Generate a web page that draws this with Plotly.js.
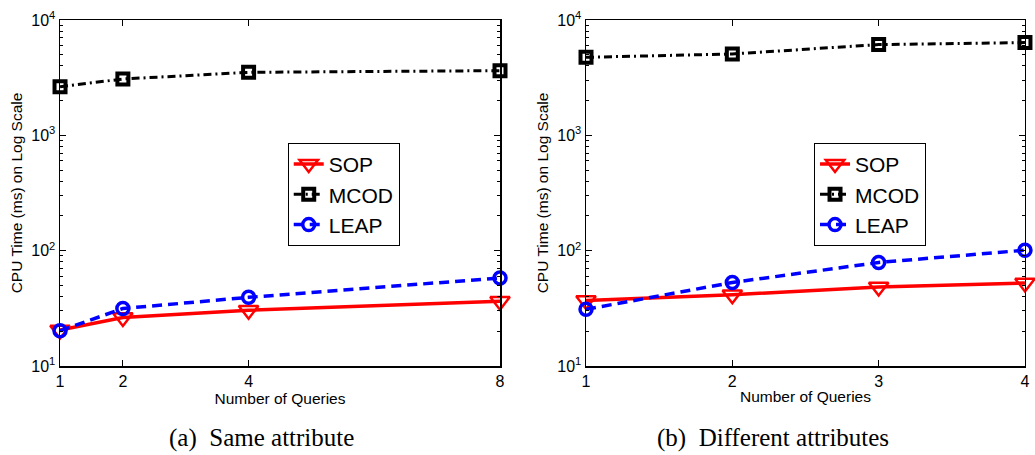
<!DOCTYPE html>
<html>
<head>
<meta charset="utf-8">
<script src="https://cdn.plot.ly/plotly-3.0.1.min.js"></script>
<style>html,body{margin:0;padding:0;background:#fff;}#chart{width:1035px;height:455px;}</style>
</head>
<body>
<div id="chart"></div>
<script>
// Panel (a): Same attribute
const queriesA = [1, 2, 4, 8];
const sopA  = [20.5, 26.3, 30.5, 36.5];
const mcodA = [2640, 3080, 3520, 3640];
const leapA = [20.2, 31.5, 39.4, 58];

// Panel (b): Different attributes
const queriesB = [1, 2, 3, 4];
const sopB  = [37, 41.5, 48.5, 52.5];
const mcodB = [4750, 5080, 6120, 6370];
const leapB = [31, 53, 79, 101];

const yTickVals = [10, 100, 1000, 10000];
const yTickText = ['10<sup>1</sup>', '10<sup>2</sup>', '10<sup>3</sup>', '10<sup>4</sup>'];

const seriesNames = ['SOP', 'MCOD', 'LEAP'];
const captionA = '(a)  Same attribute';
const captionB = '(b)  Different attributes';
const xTitle = 'Number of Queries';
const yTitle = 'CPU Time (ms) on Log Scale';

const FONT = 'Liberation Sans, Arial, sans-serif';

function styles(name) {
  if (name === 'SOP') return {
    line: {color: '#ff0000', width: 3.5, dash: 'solid'},
    marker: {symbol: 'triangle-down-open', size: 17, color: '#ff0000', line: {width: 2.5, color: '#ff0000'}}
  };
  if (name === 'MCOD') return {
    line: {color: '#000000', width: 3, dash: '8px,4px,2px,4px'},
    marker: {symbol: 'square-open', size: 11, color: '#000000', line: {width: 4, color: '#000000'}}
  };
  return {
    line: {color: '#0000ff', width: 3.5, dash: '10px,6px'},
    marker: {symbol: 'circle-open', size: 12, color: '#0000ff', line: {width: 3.5, color: '#0000ff'}}
  };
}

function makeTraces(xs, ys, xa, ya, legend) {
  return seriesNames.map((n, i) => Object.assign({
    type: 'scatter', mode: 'lines+markers', name: n,
    x: xs, y: ys[i], xaxis: xa, yaxis: ya, legend: legend,
    cliponaxis: false
  }, styles(n)));
}

const data = [].concat(
  makeTraces(queriesA, [sopA, mcodA, leapA], 'x', 'y', 'legend'),
  makeTraces(queriesB, [sopB, mcodB, leapB], 'x2', 'y2', 'legend2')
);

const yBase = {
  type: 'log', range: [1, 4], tickvals: yTickVals, ticktext: yTickText,
  ticks: 'inside', ticklen: 6, tickwidth: 1, tickcolor: '#000',
  showline: true, linecolor: '#000', linewidth: 1.5, mirror: 'ticks',
  showgrid: false, zeroline: false,
  minor: {ticks: 'inside', ticklen: 3, tickcolor: '#000', tickwidth: 1, dtick: 'D1', showgrid: false},
  tickfont: {family: FONT, size: 16, color: '#000'},
  title: {text: yTitle, font: {family: FONT, size: 15.5, color: '#000'}, standoff: 5},
  domain: [0.1956, 0.956]
};
const xBase = {
  type: 'linear', ticks: 'inside', ticklen: 6, tickwidth: 1, tickcolor: '#000',
  showline: true, linecolor: '#000', linewidth: 1.5, mirror: 'ticks',
  showgrid: false, zeroline: false,
  tickfont: {family: FONT, size: 16, color: '#000'},
  title: {text: xTitle, font: {family: FONT, size: 15.5, color: '#000'}, standoff: 2}
};

const legendBase = {
  bgcolor: '#fff', bordercolor: '#000', borderwidth: 1,
  font: {family: FONT, size: 21, color: '#000'},
  xanchor: 'left', yanchor: 'top', tracegroupgap: 0, itemwidth: 30
};

const layout = {
  width: 1035, height: 455,
  margin: {l: 0, r: 0, t: 0, b: 0},
  paper_bgcolor: '#fff', plot_bgcolor: '#fff',
  showlegend: true,
  xaxis: Object.assign({}, xBase, {domain: [0.058, 0.4831], range: [1, 8], tickvals: queriesA, anchor: 'y'}),
  yaxis: Object.assign({}, yBase, {anchor: 'x'}),
  xaxis2: Object.assign({}, xBase, {domain: [0.5662, 0.9903], range: [1, 4], tickvals: queriesB, anchor: 'y2'}),
  yaxis2: Object.assign({}, yBase, {anchor: 'x2'}),
  legend: Object.assign({}, legendBase, {x: 0.278, y: 0.686}),
  legend2: Object.assign({}, legendBase, {x: 0.7865, y: 0.686}),
  annotations: [
    {text: captionA, xref: 'paper', yref: 'paper', x: 0.2531, y: 1 - 438/455, xanchor: 'center', yanchor: 'middle', showarrow: false,
     font: {family: 'Liberation Serif, Times New Roman, serif', size: 25, color: '#000'}},
    {text: captionB, xref: 'paper', yref: 'paper', x: 0.7469, y: 1 - 438/455, xanchor: 'center', yanchor: 'middle', showarrow: false,
     font: {family: 'Liberation Serif, Times New Roman, serif', size: 25, color: '#000'}}
  ]
};

Plotly.newPlot('chart', data, layout, {displayModeBar: false, staticPlot: true});
</script>
</body>
</html>
